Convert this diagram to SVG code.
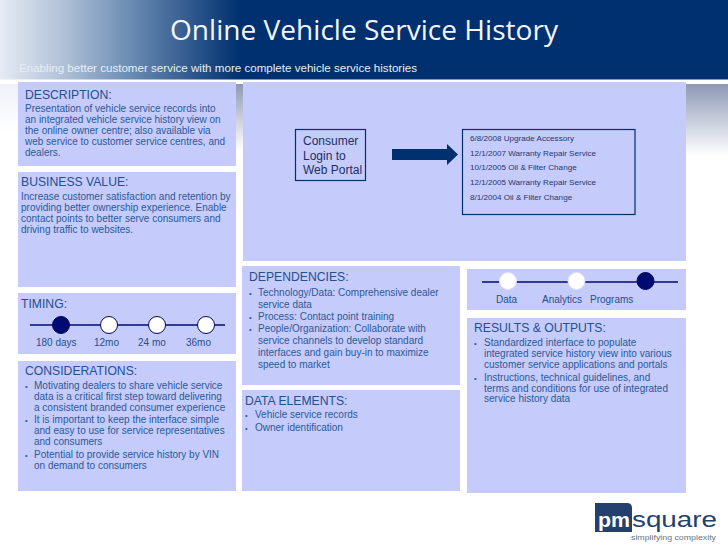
<svg xmlns="http://www.w3.org/2000/svg" width="728" height="546" viewBox="0 0 728 546">
<style>
text{font-family:"Liberation Sans",Arial,sans-serif;fill:#1f4e8c}
.p{fill:#c5cbfb}
.h{font-size:12.2px;fill:#23508f}
.b{font-size:10px;fill:#2a5a98}
.u{font-size:7.5px;fill:#2a5a98}
.d{font-size:8.1px;fill:#25376f}
.l{font-size:10px;fill:#264f8c}
.c{font-size:12px;fill:#1c2f66}
.tl{stroke:#000a6e;stroke-width:1.6;fill:none}
.on{fill:#000a73;stroke:#000a5c;stroke-width:1}
.off{fill:#fff;stroke:#000a5c;stroke-width:1}
.off2{fill:#fff;stroke:#dfe2fb;stroke-width:1}
.box{fill:none;stroke:#00306f;stroke-width:1.2}
</style>
<defs>
<linearGradient id="hd" x1="0" x2="1" y1="0" y2="0"><stop offset="0" stop-color="#e6ebf4"/><stop offset="0.09" stop-color="#aebfd6"/><stop offset="0.18" stop-color="#6a8bb2"/><stop offset="0.33" stop-color="#00306f"/><stop offset="1" stop-color="#00306f"/></linearGradient>
<linearGradient id="sh" x1="0" x2="0" y1="0" y2="1"><stop offset="0" stop-color="#8d99b4"/><stop offset="1" stop-color="#fff"/></linearGradient>
<linearGradient id="sl" x1="0" x2="0" y1="0" y2="1"><stop offset="0" stop-color="#eef1f8"/><stop offset="1" stop-color="#fff"/></linearGradient>
</defs>
<rect width="728" height="546" fill="#fff"/>
<g id="header">
<rect width="728" height="79.500" fill="url(#hd)"/>
<text x="170" y="40" font-size="28" textLength="388" lengthAdjust="spacingAndGlyphs" style="font-family:'Open Sans',sans-serif;fill:#f2f6fb">Online Vehicle Service History</text>
<text x="19" y="72" font-size="11.600" textLength="398" lengthAdjust="spacingAndGlyphs" style="fill:#e8eef6">Enabling better customer service with more complete vehicle service histories</text>
</g>
<rect x="0" y="84" width="18" height="50" fill="url(#sl)"/>
<rect x="236" y="84" width="7" height="66" fill="url(#sh)"/>
<rect x="686" y="84" width="42" height="72" fill="url(#sh)"/>
<g id="description">
<rect class="p" x="18" y="82" width="218" height="84"/>
<text class="h" x="25" y="98.500">DESCRIPTION:</text>
<text class="b" x="25" y="112">Presentation of vehicle service records into</text>
<text class="b" x="25" y="123">an integrated vehicle service history view on</text>
<text class="b" x="25" y="134">the online owner centre; also available via</text>
<text class="b" x="25" y="145">web service to customer service centres, and</text>
<text class="b" x="25" y="156">dealers.</text>
</g>
<g id="business-value">
<rect class="p" x="18" y="172" width="218" height="115"/>
<text class="h" x="21" y="186">BUSINESS VALUE:</text>
<text class="b" x="21" y="200">Increase customer satisfaction and retention by</text>
<text class="b" x="21" y="211">providing better ownership experience. Enable</text>
<text class="b" x="21" y="222">contact points to better serve consumers and</text>
<text class="b" x="21" y="233">driving traffic to websites.</text>
</g>
<g id="timing">
<rect class="p" x="18" y="293" width="218" height="61"/>
<text class="h" x="21" y="308">TIMING:</text>
<path class="tl" d="M30 325H225"/>
<circle class="on" cx="61" cy="325" r="8.500"/>
<circle class="off" cx="109" cy="325" r="8.500"/>
<circle class="off" cx="157" cy="325" r="8.500"/>
<circle class="off" cx="206" cy="325" r="8.500"/>
<text class="l" x="36" y="346">180 days</text>
<text class="l" x="94" y="346">12mo</text>
<text class="l" x="138" y="346">24 mo</text>
<text class="l" x="186" y="346">36mo</text>
</g>
<g id="considerations">
<rect class="p" x="18" y="361" width="218" height="130"/>
<text class="h" x="25" y="375">CONSIDERATIONS:</text>
<text class="u" x="25" y="388.500">•</text><text class="b" x="34" y="389">Motivating dealers to share vehicle service</text>
<text class="b" x="34" y="400">data is a critical first step toward delivering</text>
<text class="b" x="34" y="411">a consistent branded consumer experience</text>
<text class="u" x="25" y="422.500">•</text><text class="b" x="34" y="423">It is important to keep the interface simple</text>
<text class="b" x="34" y="434">and easy to use for service representatives</text>
<text class="b" x="34" y="445">and consumers</text>
<text class="u" x="25" y="457.500">•</text><text class="b" x="34" y="458">Potential to provide service history by VIN</text>
<text class="b" x="34" y="469">on demand to consumers</text>
</g>
<g id="main-panel">
<rect class="p" x="243" y="82" width="443" height="179"/>
</g>
<g id="login">
<rect class="box" x="295.500" y="129.500" width="70" height="51"/>
<text class="c" x="303" y="145">Consumer</text>
<text class="c" x="303" y="160">Login to</text>
<text class="c" x="303" y="174">Web Portal</text>
</g>
<g id="history">
<rect class="box" x="462.500" y="129.500" width="172.500" height="85"/>
<text class="d" x="470" y="141">6/8/2008 Upgrade Accessory</text>
<text class="d" x="470" y="156">12/1/2007 Warranty Repair Service</text>
<text class="d" x="470" y="170">10/1/2005 Oil &amp; Filter Change</text>
<text class="d" x="470" y="185">12/1/2005 Warranty Repair Service</text>
<text class="d" x="470" y="200">8/1/2004 Oil &amp; Filter Change</text>
</g>
<g id="connectors">
<path d="M392 149H447V144L458 154.500L447 165V160H392Z" fill="#00306f"/>
</g>
<g id="dependencies">
<rect class="p" x="242" y="266" width="218" height="119"/>
<text class="h" x="249" y="281">DEPENDENCIES:</text>
<text class="u" x="249" y="295.500">•</text><text class="b" x="258" y="296">Technology/Data: Comprehensive dealer</text>
<text class="b" x="258" y="308">service data</text>
<text class="u" x="249" y="319.500">•</text><text class="b" x="258" y="320">Process: Contact point training</text>
<text class="u" x="249" y="331.500">•</text><text class="b" x="258" y="332">People/Organization: Collaborate with</text>
<text class="b" x="258" y="344">service channels to develop standard</text>
<text class="b" x="258" y="356">interfaces and gain buy-in to maximize</text>
<text class="b" x="258" y="368">speed to market</text>
</g>
<g id="data-elements">
<rect class="p" x="242" y="390" width="218" height="101"/>
<text class="h" x="245" y="405">DATA ELEMENTS:</text>
<text class="u" x="245" y="417.500">•</text><text class="b" x="255" y="418">Vehicle service records</text>
<text class="u" x="245" y="430.500">•</text><text class="b" x="255" y="431">Owner  identification</text>
</g>
<g id="stage">
<rect class="p" x="467" y="269" width="219" height="41"/>
<path class="tl" d="M482 282H678"/>
<circle class="off2" cx="508" cy="281" r="8.500"/>
<circle class="off2" cx="576.500" cy="281" r="8.500"/>
<circle class="on" cx="645.500" cy="281" r="8.500"/>
<text class="l" x="496" y="303">Data</text>
<text class="l" x="542" y="303">Analytics</text>
<text class="l" x="590" y="303">Programs</text>
</g>
<g id="results">
<rect class="p" x="467" y="318" width="219" height="175"/>
<text class="h" x="474" y="332">RESULTS &amp; OUTPUTS:</text>
<text class="u" x="474" y="345.500">•</text><text class="b" x="484" y="346">Standardized interface  to populate</text>
<text class="b" x="484" y="357">integrated service history view into various</text>
<text class="b" x="484" y="368">customer service applications and portals</text>
<text class="u" x="474" y="380.500">•</text><text class="b" x="484" y="381">Instructions, technical guidelines, and</text>
<text class="b" x="484" y="392">terms and conditions for use of integrated</text>
<text class="b" x="484" y="402">service history data</text>
</g>
<g id="logo">
<path d="M595 503H627Q632 503 632 508V532H595Z" fill="#24406f"/>
<text x="598" y="527" font-size="20" font-weight="bold" textLength="32" lengthAdjust="spacingAndGlyphs" style="fill:#fff">pm</text>
<text x="632" y="527" font-size="22" textLength="85" lengthAdjust="spacingAndGlyphs" style="fill:#24406f">square</text>
<text x="631" y="540" font-size="8" textLength="85" lengthAdjust="spacingAndGlyphs" style="fill:#6a7280">simplifying complexity</text>
</g>
</svg>
